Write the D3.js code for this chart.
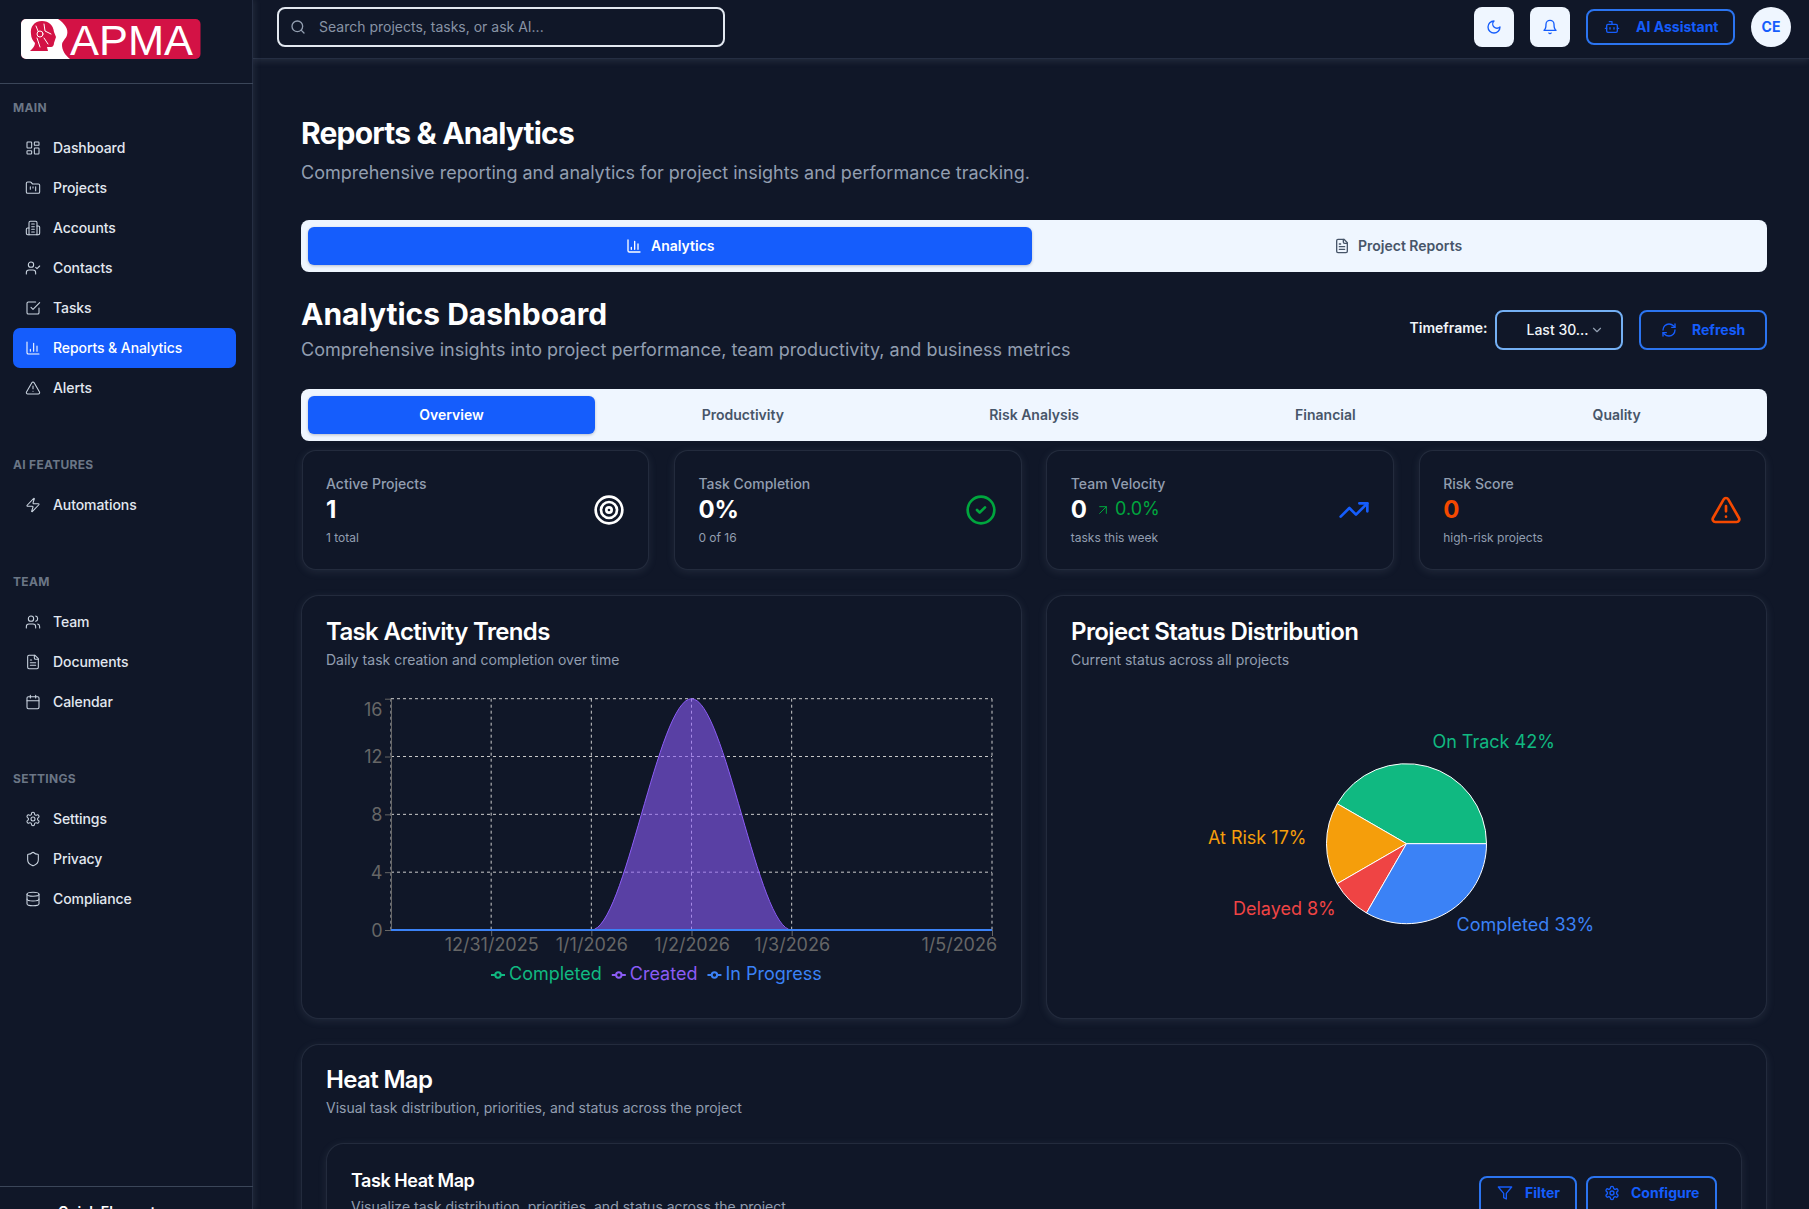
<!DOCTYPE html>
<html>
<head>
<meta charset="utf-8">
<title>Reports & Analytics</title>
<script src="https://cdn.jsdelivr.net/npm/d3@7"></script>
<style>
    html, body { margin: 0; padding: 0; background: #101728; }
    #page { position: relative; width: 1809px; height: 1209px; overflow: hidden; background: #101728; font-family: Inter, "Noto Sans", sans-serif; }
    .box { position: absolute; box-sizing: border-box; }
    .txt { position: absolute; white-space: nowrap; }
    .card { background: #101728; border: 1px solid rgba(148,163,184,.15); box-shadow: 0 2px 8px rgba(148,163,184,.13); }
    svg.icon { position: absolute; fill: none; stroke-linecap: round; stroke-linejoin: round; }
    #charts { position: absolute; left: 0; top: 0; }
    #charts text { font-family: Inter, sans-serif; }
</style>
</head>
<body>
<div id="page"></div>
<script>
// chart data
var trendDates = ["12/30/2025", "12/31/2025", "1/1/2026", "1/2/2026", "1/3/2026", "1/4/2026", "1/5/2026"];
var trendCompleted = [0, 0, 0, 0, 0, 0, 0];
var trendCreated = [0, 0, 0, 16, 0, 0, 0];
var trendInProgress = [0, 0, 0, 0, 0, 0, 0];
var trendYTicks = [0, 4, 8, 12, 16];
var trendXTicks = ["12/31/2025", "1/1/2026", "1/2/2026", "1/3/2026", "1/5/2026"];
var trendGridX = ["12/30/2025", "12/31/2025", "1/1/2026", "1/2/2026", "1/3/2026", "1/5/2026"];

var statusNames = ["On Track", "At Risk", "Delayed", "Completed"];
var statusCounts = [5, 2, 1, 4];
var statusColors = ["#10b981", "#f59e0b", "#ef4444", "#3b82f6"];

var navSections = ["MAIN", "AI FEATURES", "TEAM", "SETTINGS"];
var navMain = ["Dashboard", "Projects", "Accounts", "Contacts", "Tasks", "Reports & Analytics", "Alerts"];
var navAi = ["Automations"];
var navTeam = ["Team", "Documents", "Calendar"];
var navSettings = ["Settings", "Privacy", "Compliance"];
var subTabs = ["Overview", "Productivity", "Risk Analysis", "Financial", "Quality"];

var statLabels = ["Active Projects", "Task Completion", "Team Velocity", "Risk Score"];
var statValues = ["1", "0%", "0", "0"];
var statNotes = ["1 total", "0 of 16", "tasks this week", "high-risk projects"];

var BG = "#101728", BLUE = "#155dfc", LIGHT = "#eff6ff", MUTED = "#929eb0";

// lucide style icons
var ICONS = {
    "Dashboard": '<rect x="3" y="3" width="7" height="9" rx="1"/><rect x="14" y="3" width="7" height="5" rx="1"/><rect x="14" y="12" width="7" height="9" rx="1"/><rect x="3" y="16" width="7" height="5" rx="1"/>',
    "Projects": '<path d="M4 20h16a2 2 0 0 0 2-2V8a2 2 0 0 0-2-2h-7.93a2 2 0 0 1-1.66-.9l-.82-1.2A2 2 0 0 0 7.93 3H4a2 2 0 0 0-2 2v13c0 1.1.9 2 2 2Z"/><path d="M8 10v4M12 10v2M16 10v6"/>',
    "Accounts": '<path d="M6 22V4a2 2 0 0 1 2-2h8a2 2 0 0 1 2 2v18Z"/><path d="M6 12H4a2 2 0 0 0-2 2v6a2 2 0 0 0 2 2h2"/><path d="M18 9h2a2 2 0 0 1 2 2v9a2 2 0 0 1-2 2h-2"/><path d="M10 6h4M10 10h4M10 14h4M10 18h4"/>',
    "Contacts": '<path d="M16 21v-2a4 4 0 0 0-4-4H6a4 4 0 0 0-4 4v2"/><circle cx="9" cy="7" r="4"/><path d="m16 11 2 2 4-4"/>',
    "Tasks": '<path d="m9 11 3 3L22 4"/><path d="M21 12v7a2 2 0 0 1-2 2H5a2 2 0 0 1-2-2V5a2 2 0 0 1 2-2h11"/>',
    "Reports & Analytics": '<path d="M3 3v16a2 2 0 0 0 2 2h16"/><path d="M18 17V9M13 17V5M8 17v-3"/>',
    "Alerts": '<path d="m21.73 18-8-14a2 2 0 0 0-3.48 0l-8 14A2 2 0 0 0 4 21h16a2 2 0 0 0 1.73-3"/><path d="M12 9v4M12 17h.01"/>',
    "Automations": '<path d="M4 14a1 1 0 0 1-.78-1.63l9.9-10.2a.5.5 0 0 1 .86.46l-1.92 6.02A1 1 0 0 0 13 10h7a1 1 0 0 1 .78 1.63l-9.9 10.2a.5.5 0 0 1-.86-.46l1.92-6.02A1 1 0 0 0 11 14z"/>',
    "Team": '<path d="M16 21v-2a4 4 0 0 0-4-4H6a4 4 0 0 0-4 4v2"/><circle cx="9" cy="7" r="4"/><path d="M22 21v-2a4 4 0 0 0-3-3.87"/><path d="M16 3.13a4 4 0 0 1 0 7.75"/>',
    "Documents": '<path d="M15 2H6a2 2 0 0 0-2 2v16a2 2 0 0 0 2 2h12a2 2 0 0 0 2-2V7Z"/><path d="M14 2v4a2 2 0 0 0 2 2h4"/><path d="M10 9H8M16 13H8M16 17H8"/>',
    "Calendar": '<path d="M8 2v4M16 2v4"/><rect x="3" y="4" width="18" height="18" rx="2"/><path d="M3 10h18"/>',
    "Settings": '<path d="M12.22 2h-.44a2 2 0 0 0-2 2v.18a2 2 0 0 1-1 1.73l-.43.25a2 2 0 0 1-2 0l-.15-.08a2 2 0 0 0-2.73.73l-.22.38a2 2 0 0 0 .73 2.73l.15.1a2 2 0 0 1 1 1.72v.51a2 2 0 0 1-1 1.74l-.15.09a2 2 0 0 0-.73 2.73l.22.38a2 2 0 0 0 2.73.73l.15-.08a2 2 0 0 1 2 0l.43.25a2 2 0 0 1 1 1.73V20a2 2 0 0 0 2 2h.44a2 2 0 0 0 2-2v-.18a2 2 0 0 1 1-1.73l.43-.25a2 2 0 0 1 2 0l.15.08a2 2 0 0 0 2.73-.73l.22-.39a2 2 0 0 0-.73-2.73l-.15-.08a2 2 0 0 1-1-1.74v-.5a2 2 0 0 1 1-1.74l.15-.09a2 2 0 0 0 .73-2.73l-.22-.38a2 2 0 0 0-2.73-.73l-.15.08a2 2 0 0 1-2 0l-.43-.25a2 2 0 0 1-1-1.73V4a2 2 0 0 0-2-2z"/><circle cx="12" cy="12" r="3"/>',
    "Privacy": '<path d="M20 13c0 5-3.5 7.5-7.66 8.95a1 1 0 0 1-.67-.01C7.5 20.5 4 18 4 13V6a1 1 0 0 1 1-1c2 0 4.5-1.2 6.24-2.72a1.17 1.17 0 0 1 1.52 0C14.51 3.81 17 5 19 5a1 1 0 0 1 1 1z"/>',
    "Compliance": '<ellipse cx="12" cy="5" rx="9" ry="3"/><path d="M3 5V19A9 3 0 0 0 21 19V5"/><path d="M3 12A9 3 0 0 0 21 12"/>',
    search: '<circle cx="11" cy="11" r="8"/><path d="m21 21-4.3-4.3"/>',
    moon: '<path d="M12 3a6 6 0 0 0 9 9 9 9 0 1 1-9-9Z"/>',
    bell: '<path d="M6 8a6 6 0 0 1 12 0c0 7 3 9 3 9H3s3-2 3-9"/><path d="M10.3 21a1.94 1.94 0 0 0 3.4 0"/>',
    bot: '<path d="M12 8V4H8"/><rect x="4" y="8" width="16" height="12" rx="2"/><path d="M2 14h2M20 14h2M15 13v2M9 13v2"/>',
    refresh: '<path d="M3 12a9 9 0 0 1 9-9 9.75 9.75 0 0 1 6.74 2.74L21 8"/><path d="M21 3v5h-5"/><path d="M21 12a9 9 0 0 1-9 9 9.75 9.75 0 0 1-6.74-2.74L3 16"/><path d="M8 16H3v5"/>',
    chevron: '<path d="m6 9 6 6 6-6"/>',
    target: '<circle cx="12" cy="12" r="10"/><circle cx="12" cy="12" r="6"/><circle cx="12" cy="12" r="2"/>',
    check: '<circle cx="12" cy="12" r="10"/><path d="m9 12 2 2 4-4"/>',
    trend: '<path d="M16 7h6v6"/><path d="m22 7-8.5 8.5-5-5L2 17"/>',
    arrow: '<path d="M7 7h10v10"/><path d="M7 17 17 7"/>',
    filter: '<path d="M22 3H2l8 9.46V19l4 2v-8.54L22 3z"/>'
};

var page = d3.select("#page");

function box(x, y, w, h, color, radius, cls) {
    return page.append("div")
        .attr("class", "box " + (cls || ""))
        .style("left", x + "px").style("top", y + "px")
        .style("width", w + "px").style("height", h + "px")
        .style("background", color)
        .style("border-radius", (radius || 0) + "px");
}

// anchor: start, middle or end. cy is the vertical centre of the line
function label(str, x, cy, size, weight, color, anchor, spacing) {
    var t = page.append("div")
        .attr("class", "txt")
        .text(str)
        .style("top", (cy - size) + "px")
        .style("line-height", (size * 2) + "px")
        .style("font-size", size + "px")
        .style("font-weight", weight)
        .style("color", color)
        .style("letter-spacing", spacing || "normal");
    var w = t.node().getBoundingClientRect().width;
    var left = anchor == "middle" ? x - w / 2 : anchor == "end" ? x - w : x;
    t.style("left", left + "px");
    return t;
}

function icon(name, cx, cy, size, color, sw) {
    page.append("svg")
        .attr("class", "icon")
        .attr("viewBox", "0 0 24 24")
        .attr("width", size).attr("height", size)
        .style("left", (cx - size / 2) + "px").style("top", (cy - size / 2) + "px")
        .style("stroke", color).style("stroke-width", sw || 2)
        .html(ICONS[name]);
}

function outlineButton(x, y, w, h, borderColor) {
    return box(x, y, w, h, "transparent", 8).style("border", "2px solid " + borderColor);
}

function drawSidebar() {
    box(0, 0, 253, 1209, BG).style("border-right", "1px solid #252e42")
        .style("box-shadow", "2px 0 6px rgba(148,163,184,.12)");
    box(0, 83, 253, 1, "#3b4659");
    box(0, 1186, 253, 1, "#3b4659");

    var logo = page.append("svg").attr("class", "icon").attr("width", 190).attr("height", 48)
        .attr("viewBox", "16 15 190 48").style("left", "16px").style("top", "15px");
    logo.append("rect").attr("x", 21).attr("y", 19).attr("width", 179.5).attr("height", 40).attr("rx", 5).attr("fill", "#d31245");
    logo.append("path").attr("fill", "#fff").attr("d", "M26 19H58C64 23 69 29 67 35C66 39 62 41 62 45C62 50 65 55 70 59H26A5 5 0 0 1 21 54V24A5 5 0 0 1 26 19Z");
    logo.append("path").attr("fill", "#d31245").attr("d", "M42 21C34 21 30 27 31 34C31 38 33 41 35 43C35 46 33 48 30 51H48L47 47H51C53 47 54 45 54 43L55 40L56 37L54 32C53 25 49 21 42 21Z");
    logo.append("circle").attr("cx", 40).attr("cy", 34).attr("r", 3).attr("fill", "none").attr("stroke", "#fff");
    logo.append("path").attr("stroke", "#fff").attr("fill", "none").attr("d", "M44 24L45 31L51 34M36 26L38 31M44 38L48 44M37 38L40 47");
    logo.append("text").text("APMA").attr("x", 70).attr("y", 55).attr("fill", "#fff")
        .attr("font-family", "Liberation Sans").attr("font-size", 43)
        .attr("textLength", 123).attr("lengthAdjust", "spacingAndGlyphs");

    box(13, 328, 223, 40, BLUE, 7);

    var groups = [navMain, navAi, navTeam, navSettings];
    var headerY = [108, 464.5, 581.5, 778.5];
    navSections.forEach(function (name, i) {
        label(name, 13, headerY[i], 12, 700, "#6b7686", "start", ".025em");
        groups[i].forEach(function (item, j) {
            var cy = headerY[i] + 40 + j * 40;
            var active = item == "Reports & Analytics";
            icon(item, 33, cy, 16, active ? "#fff" : "#cbd5e1", 1.6);
            label(item, 53, cy, 14, 500, active ? "#fff" : "#e2e8f0", "start", "-.006em");
        });
    });
    label("Quick Elements", 58, 1212, 14, 600, "#fff");
}

function drawHeader() {
    box(253, 0, 1556, 58.5, BG).style("box-shadow", "0 2px 7px rgba(148,163,184,.16)")
        .style("border-bottom", "1px solid #252e42");
    box(277, 7, 447.5, 40, BG, 8).style("border", "2px solid #e2e8f0");
    icon("search", 297.5, 27, 16, MUTED);
    label("Search projects, tasks, or ask AI...", 319, 27, 14, 400, "#8893a5");

    box(1474, 7, 40, 40, LIGHT, 8);
    icon("moon", 1494, 27, 16, BLUE);
    box(1530, 7, 40, 40, LIGHT, 8);
    icon("bell", 1550, 27, 16, BLUE);
    outlineButton(1586, 9, 149, 36, "#2b74f0");
    icon("bot", 1612, 27, 16, BLUE);
    label("AI Assistant", 1636, 27, 14, 700, BLUE);
    box(1751, 7, 40, 40, LIGHT, 20);
    label("CE", 1771, 27, 14, 700, BLUE, "middle");
}

function drawHeadings() {
    label("Reports & Analytics", 301, 133, 30, 700, "#fff", "start", "-.027em");
    label("Comprehensive reporting and analytics for project insights and performance tracking.", 301, 172.5, 18, 400, MUTED);

    box(301, 220, 1465.5, 52, LIGHT, 8);
    box(308, 227, 724, 38, BLUE, 6).style("box-shadow", "0 1px 3px rgba(15,23,42,.25)");
    icon("Reports & Analytics", 633.5, 246, 16, "#fff");
    label("Analytics", 651, 246, 14, 600, "#fff");
    icon("Documents", 1341.5, 246, 16, "#475569");
    label("Project Reports", 1358, 246, 14, 600, "#475569");

    label("Analytics Dashboard", 301, 314, 30, 700, "#fff");
    label("Comprehensive insights into project performance, team productivity, and business metrics", 301, 350, 18, 400, MUTED);

    label("Timeframe:", 1409.5, 328, 14, 600, "#f1f5f9");
    outlineButton(1495, 310, 128, 40, "#74b0f4");
    label("Last 30...", 1526.5, 330, 14, 500, "#f1f5f9");
    icon("chevron", 1597, 330, 14, MUTED);
    outlineButton(1639, 310, 127.5, 40, "#2b74f0");
    icon("refresh", 1669, 330, 16, BLUE);
    label("Refresh", 1692, 330, 14, 700, BLUE);

    box(301, 389, 1465.5, 52, LIGHT, 8);
    box(308, 396, 287, 38, BLUE, 6).style("box-shadow", "0 1px 3px rgba(15,23,42,.25)");
    subTabs.forEach(function (name, i) {
        label(name, 451.5 + i * 291.3, 415, 14, 600, i == 0 ? "#fff" : "#475569", "middle");
    });
}

function drawStatCards() {
    var iconNames = ["target", "check", "trend", "Alerts"];
    var iconColors = ["#fff", "#00a63e", BLUE, "#f54900"];
    statLabels.forEach(function (name, i) {
        var x = 301.5 + i * 372.4;
        box(x, 449.5, 347.8, 120.5, BG, 14, "card");
        label(name, x + 24.5, 484, 14, 500, MUTED);
        label(statValues[i], x + 24.5, 510, 24, 700, i == 3 ? "#f54900" : "#fff");
        label(statNotes[i], x + 24.5, 537.5, 12, 400, MUTED);
        icon(iconNames[i], x + 307.5, 510, 32, iconColors[i]);
    });
    icon("arrow", 1102.5, 510, 16, "#00a63e", 1.5);
    label("0.0%", 1115, 509, 18, 400, "#00a63e");
}

function drawCardFrames() {
    box(301, 595, 720.5, 423.5, BG, 18, "card");
    label("Task Activity Trends", 326, 631.5, 24, 600, "#fff", "start", "-.027em");
    label("Daily task creation and completion over time", 326, 660, 14, 400, MUTED);

    box(1046, 595, 720.5, 423.5, BG, 18, "card");
    label("Project Status Distribution", 1071, 631.5, 24, 600, "#fff", "start", "-.025em");
    label("Current status across all projects", 1071, 660, 14, 400, MUTED);

    box(301, 1043.5, 1465.5, 240, BG, 18, "card");
    label("Heat Map", 326, 1080, 24, 600, "#fff", "start", "-.027em");
    label("Visual task distribution, priorities, and status across the project", 326, 1108, 14, 400, MUTED);

    box(326, 1142.5, 1415.5, 180, BG, 18, "card");
    label("Task Heat Map", 351, 1181, 18, 600, "#fff", "start", "-.025em");
    label("Visualize task distribution, priorities, and status across the project", 351, 1207, 14, 400, MUTED);

    outlineButton(1479, 1175.5, 98, 44, "#2b74f0");
    icon("filter", 1505, 1193, 16, BLUE);
    label("Filter", 1525, 1193, 14, 700, BLUE);
    outlineButton(1586, 1175.5, 130.5, 44, "#2b74f0");
    icon("Settings", 1612, 1193, 16, BLUE);
    label("Configure", 1631, 1193, 14, 700, BLUE);
}

function drawTrendChart(svg) {
    var g = svg.append("g");

    var x = d3.scalePoint().domain(trendDates).range([391, 992]);
    var y = d3.scaleLinear().domain([0, 16]).range([930, 698.7]);

    // grid
    g.append("g").selectAll("line").data(trendYTicks).join("line")
        .attr("x1", 391).attr("x2", 992)
        .attr("y1", d => y(d)).attr("y2", d => y(d))
        .attr("stroke", "#ccc").attr("stroke-dasharray", "3 3");
    g.append("g").selectAll("line").data(trendGridX).join("line")
        .attr("x1", d => x(d)).attr("x2", d => x(d))
        .attr("y1", y(16)).attr("y2", y(0))
        .attr("stroke", "#ccc").attr("stroke-dasharray", "3 3");

    // axes
    var xAxis = g.append("g").attr("transform", "translate(0,930)")
        .call(d3.axisBottom(x).tickValues(trendXTicks).tickSize(6).tickSizeOuter(0));
    var yAxis = g.append("g").attr("transform", "translate(391,0)")
        .call(d3.axisLeft(y).tickValues(trendYTicks).tickSize(6).tickSizeOuter(0));
    [xAxis, yAxis].forEach(function (a) {
        a.selectAll("path, line").attr("stroke", "#666");
        a.selectAll("text").attr("fill", "#666").attr("font-size", 18);
    });
    xAxis.selectAll("text").attr("y", 15).attr("dy", "0.34em");
    xAxis.selectAll("text").filter(d => d == "1/5/2026").attr("text-anchor", "end").attr("x", 4.6);
    yAxis.selectAll("text").attr("x", -8.5).attr("dy", "0.34em");
    yAxis.selectAll("text").filter(d => d == 16).attr("dy", "0.96em");

    var series = [
        { name: "Completed", color: "#10b981", values: trendCompleted },
        { name: "Created", color: "#8b5cf6", values: trendCreated },
        { name: "In Progress", color: "#3b82f6", values: trendInProgress }
    ];

    var area = d3.area()
        .x((d, i) => x(trendDates[i]))
        .y0(y(0))
        .y1(d => y(d))
        .curve(d3.curveMonotoneX);

    var marks = g.append("g").selectAll("g").data(series).join("g");
    marks.append("path").attr("d", d => area(d.values))
        .attr("fill", d => d.color).attr("fill-opacity", 0.6).attr("stroke", "none");
    marks.append("path").attr("d", d => area.lineY1()(d.values))
        .attr("fill", "none").attr("stroke", d => d.color)
        .attr("stroke-width", d => d.name == "Created" ? 1 : 2);

    // legend
    var cursor = 491;
    series.forEach(function (s) {
        var item = g.append("g");
        item.append("line").attr("x1", cursor).attr("x2", cursor + 14)
            .attr("y1", 975).attr("y2", 975).attr("stroke", s.color).attr("stroke-width", 2);
        item.append("circle").attr("cx", cursor + 7).attr("cy", 975).attr("r", 2.7)
            .attr("fill", BG).attr("stroke", s.color).attr("stroke-width", 2);
        var t = item.append("text").text(s.name).attr("x", cursor + 18).attr("y", 974)
            .attr("dy", "0.36em").attr("font-size", 18).attr("fill", s.color);
        cursor += 18 + t.node().getComputedTextLength() + 10;
    });
}

function drawStatusPie(svg) {
    var cx = 1406.5, cy = 843.7, radius = 80, labelRadius = 100;
    var total = d3.sum(statusCounts);
    var color = d3.scaleOrdinal().domain(statusNames).range(statusColors);

    var pie = d3.pie().sort(null).value(d => d.count)
        .startAngle(Math.PI / 2).endAngle(Math.PI / 2 - 2 * Math.PI);
    var rows = statusNames.map((name, i) => ({ name: name, count: statusCounts[i] }));
    var arc = d3.arc().innerRadius(0).outerRadius(radius);

    var g = svg.append("g").attr("transform", "translate(" + cx + "," + cy + ")");
    g.selectAll("path").data(pie(rows)).join("path")
        .attr("d", arc)
        .attr("fill", d => color(d.data.name))
        .attr("stroke", "#fff");

    g.selectAll("text").data(pie(rows)).join("text")
        .text(d => d.data.name + " " + Math.round(d.data.count / total * 100) + "%")
        .attr("x", d => labelRadius * Math.sin((d.startAngle + d.endAngle) / 2))
        .attr("y", d => -labelRadius * Math.cos((d.startAngle + d.endAngle) / 2) - 6)
        .attr("dy", "0.36em")
        .attr("font-size", 18)
        .attr("fill", d => color(d.data.name))
        .attr("text-anchor", d => Math.sin((d.startAngle + d.endAngle) / 2) > 0 ? "start" : "end");
}

drawHeader();
drawSidebar();
drawHeadings();
drawStatCards();
drawCardFrames();

var chartSvg = page.append("svg").attr("id", "charts").attr("width", 1809).attr("height", 1209);
drawTrendChart(chartSvg);
drawStatusPie(chartSvg);
</script>
</body>
</html>
